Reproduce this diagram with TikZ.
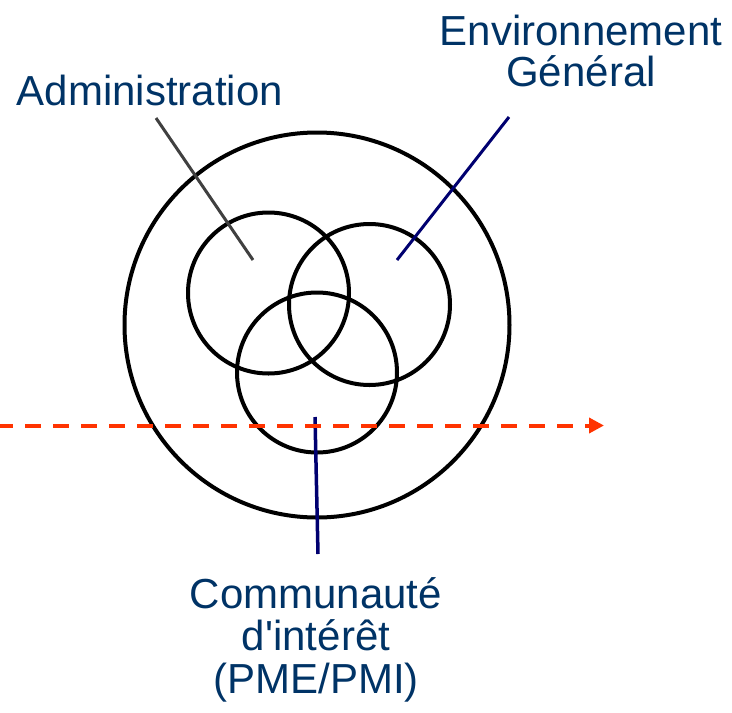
\documentclass[tikz,border=0pt]{standalone}
\usepackage{fontspec}
\setmainfont[Ligatures=TeXOff]{Liberation Sans}
\usetikzlibrary{arrows.meta}
\definecolor{labelblue}{RGB}{0,51,102}
\definecolor{linegray}{RGB}{64,64,64}
\definecolor{linenavy}{RGB}{0,0,112}
\definecolor{flowred}{RGB}{255,51,0}
\tikzset{
  ring/.style={circle, draw=black, line width=4pt, inner sep=0pt, outer sep=0pt},
  lbl/.style={text=labelblue, align=center, inner sep=0pt, anchor=base},
  pointer/.style={line width=3pt},
  flow/.style={draw=flowred, line width=4pt, dash pattern=on 16pt off 12pt, -{Triangle[length=15pt,width=15pt]}}
}
\begin{document}
\begin{tikzpicture}[x=1pt,y=-1pt]
\useasboundingbox (0,0) rectangle (732,713);
% circles
\node[ring, minimum size=385pt] (outer) at (317,325) {};
\node[ring, minimum size=161pt] (admin) at (268.5,293) {};
\node[ring, minimum size=161pt] (env) at (369.5,304.5) {};
\node[ring, minimum size=160pt] (comm) at (317,372.5) {};
% labels (base anchor = baseline of last line)
\node[lbl, font=\fontsize{42}{41}\selectfont] (ladmin) at (150,105) {Administration};
\node[lbl, font=\fontsize{42}{41}\selectfont] (lenv) at (581,86) {Environnement\\Général};
\node[lbl, font=\fontsize{42}{42.5}\selectfont] (lcomm) at (316,693) {Communauté\\d'intérêt\\(PME/PMI)};
% pointer ends
\coordinate (a1) at (156,118);
\coordinate (a2) at (253,260);
\coordinate (e1) at (509,117);
\coordinate (e2) at (397,260);
\coordinate (c1) at (315,417);
\coordinate (c2) at (318,554);
\draw[pointer, linegray] (a1) -- (a2);
\draw[pointer, linenavy] (e1) -- (e2);
\draw[pointer, linenavy, line width=3.5pt] (c1) -- (c2);
% dashed flow arrow
\coordinate (f1) at (-3,425.5);
\coordinate (f2) at (604,425.5);
\draw[flow] (f1) -- (f2);
\end{tikzpicture}
\end{document}
